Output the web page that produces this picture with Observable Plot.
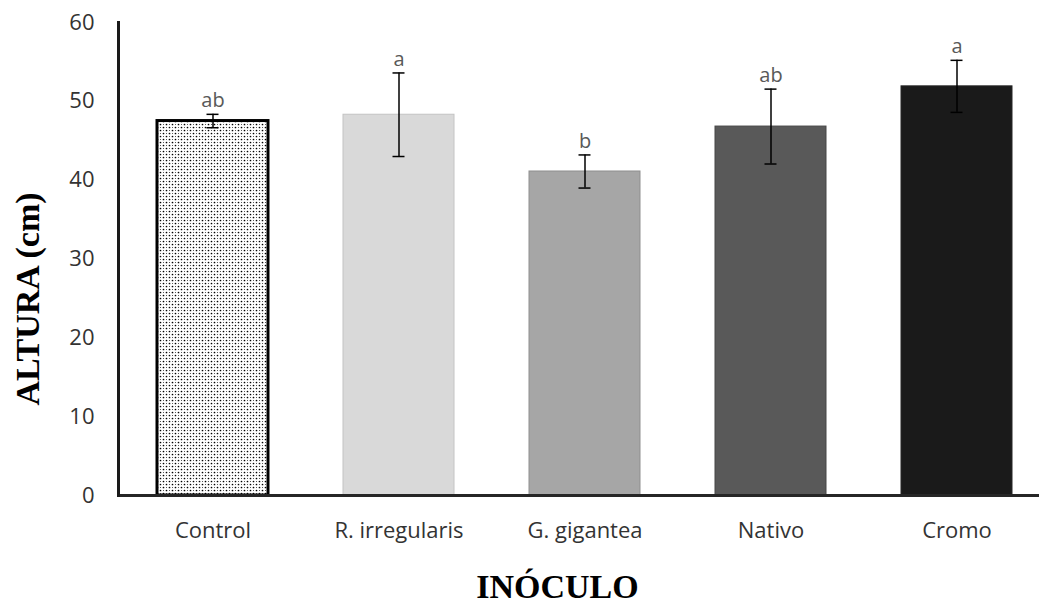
<!DOCTYPE html>
<html>
<head>
<meta charset="utf-8">
<script src="https://cdn.jsdelivr.net/npm/d3@7"></script>
<script src="https://cdn.jsdelivr.net/npm/@observablehq/plot@0.6"></script>
<style>
  html, body { margin: 0; padding: 0; background: #fff; }
  #chart svg { display: block; overflow: visible; }
</style>
</head>
<body>
<div id="chart"></div>
<script>
// ---- data ----
const categories = ["Control", "R. irregularis", "G. gigantea", "Nativo", "Cromo"];
const means = [47.5, 48.3, 41.1, 46.8, 51.9];
const errors = [0.85, 5.3, 2.1, 4.75, 3.3];
const letters = ["ab", "a", "b", "ab", "a"];
const yTicks = [0, 10, 20, 30, 40, 50, 60];

// ---- styles ----
const barFills = ["url(#dots)", "#d9d9d9", "#a6a6a6", "#595959", "#1a1a1a"];
const barStrokes = ["#000000", "#c4c4c4", "#8f8f8f", "#474747", "#262626"];
const barStrokeWidths = [3, 1, 1, 1, 1];

const data = categories.map((c, i) => ({
  cat: c, mean: means[i], err: errors[i], letter: letters[i],
  fill: barFills[i], stroke: barStrokes[i], sw: barStrokeWidths[i]
}));

const sans = "'Open Sans', sans-serif";
const serif = "'Liberation Serif', 'Times New Roman', serif";

const chart = Plot.plot({
  width: 1039,
  height: 607,
  marginTop: 22,
  marginBottom: 112,
  marginLeft: 118,
  marginRight: -11,
  style: { background: "#fff", fontFamily: sans },
  x: { domain: categories, paddingInner: 0.405, paddingOuter: 0.2, label: null },
  y: { domain: [0, 60], ticks: yTicks, label: null },
  color: { type: "identity" },
  marks: [
    Plot.barY(data, {
      x: "cat", y: "mean", fill: "fill", stroke: "stroke", strokeWidth: "sw"
    }),
    Plot.ruleX(data, {
      x: "cat", y1: d => d.mean - d.err, y2: d => d.mean + d.err,
      stroke: "#000", strokeWidth: 1.5
    }),
    Plot.tickY(data, {
      x: "cat", y: d => d.mean + d.err, stroke: "#000", strokeWidth: 1.5,
      insetLeft: 49.5, insetRight: 49.5
    }),
    Plot.tickY(data, {
      x: "cat", y: d => d.mean - d.err, stroke: "#000", strokeWidth: 1.5,
      insetLeft: 49.5, insetRight: 49.5
    }),
    Plot.text(data, {
      x: "cat", y: d => d.mean + d.err, text: "letter",
      lineAnchor: "bottom", dy: -7, fill: "#595959", fontSize: 20, fontFamily: sans
    }),
    Plot.axisY({
      ticks: yTicks, tickSize: 0, tickPadding: 24, fontSize: 22,
      fill: "#333", label: null, fontFamily: sans
    }),
    Plot.axisX({
      tickSize: 0, tickPadding: 27, fontSize: 22, fill: "#333",
      label: null, fontFamily: sans
    }),
    Plot.ruleY([0], { stroke: "#262626", strokeWidth: 3 }),
    Plot.frame({ anchor: "left", stroke: "#1a1a1a", strokeWidth: 3 }),
    Plot.text(["ALTURA (cm)"], {
      frameAnchor: "left", rotate: -90, dx: -90, dy: 40,
      textAnchor: "middle", lineAnchor: "middle",
      fontFamily: serif, fontWeight: "bold", fontSize: 34, fill: "#000"
    }),
    Plot.text(["INÓCULO"], {
      frameAnchor: "bottom", dx: -27, dy: 92,
      textAnchor: "middle", lineAnchor: "middle",
      fontFamily: serif, fontWeight: "bold", fontSize: 34, fill: "#000"
    })
  ]
});

// dotted pattern for the Control bar
chart.insertAdjacentHTML("afterbegin", `
<defs>
  <pattern id="dots" patternUnits="userSpaceOnUse" width="6" height="6">
    <rect width="6" height="6" fill="#fff"/>
    <circle cx="1.5" cy="1.5" r="0.85" fill="#000"/>
    <circle cx="4.5" cy="4.5" r="0.85" fill="#000"/>
    <circle cx="4.5" cy="1.5" r="0.5" fill="#222"/>
    <circle cx="1.5" cy="4.5" r="0.5" fill="#222"/>
  </pattern>
</defs>`);

document.getElementById("chart").appendChild(chart);
</script>
</body>
</html>
